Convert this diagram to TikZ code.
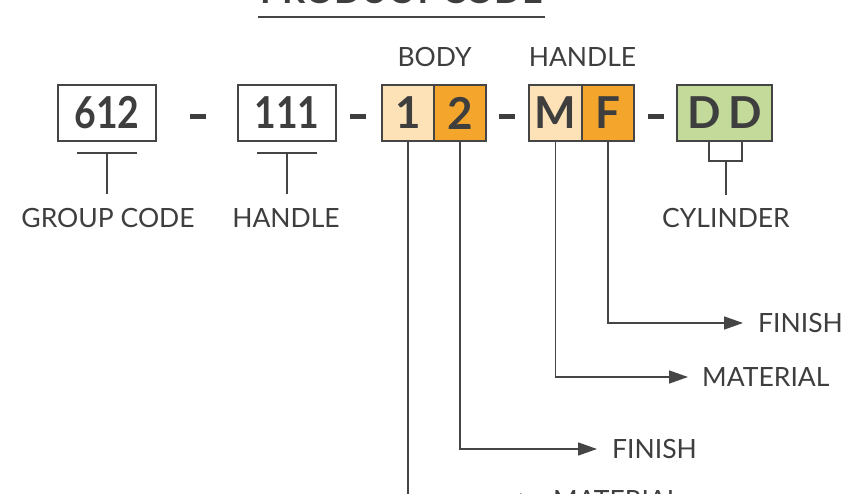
\documentclass[tikz,border=0pt]{standalone}
\usepackage{fontspec}
\setmainfont{Lato}
\usetikzlibrary{arrows.meta}
\definecolor{ink}{HTML}{3E3E3E}
\definecolor{lineink}{HTML}{454545}
\definecolor{lightorange}{HTML}{FCE2B6}
\definecolor{darkorange}{HTML}{F4A62C}
\definecolor{lightgreen}{HTML}{C4DA9A}
\tikzset{
  codebox/.style={draw=lineink, line width=1.3pt, minimum height=56pt, inner sep=0pt, text=ink,
                  font=\fontsize{44}{44}\bfseries\selectfont},
  lbl/.style={inner sep=0pt, text=ink, font=\fontsize{26.5}{26.5}\selectfont},
  conn/.style={draw=lineink, line width=1.5pt},
  arr/.style={conn, -{Triangle[length=19pt,width=13pt]}},
  dashmark/.style={fill=ink, minimum width=16pt, minimum height=5pt, inner sep=0pt},
}
\begin{document}
\begin{tikzpicture}[x=1pt,y=-1pt]
\useasboundingbox (0,0) rectangle (847,494);
\clip (0,0) rectangle (847,494);
\fill[white] (0,0) rectangle (847,494);

% title (cut off at the top)
\node[anchor=base, inner sep=0pt, text=ink, font=\fontsize{36}{36}\bfseries\selectfont] (title) at (401.5,4) {PRODUCT CODE};
\coordinate (ulA) at (258,17);
\coordinate (ulB) at (545,17);
\draw[conn, line width=2pt] (ulA) -- (ulB);

% boxes
\node[codebox, fill=white, minimum width=98pt] (b612) at (107,113) {\scalebox{0.85}[1]{612}};
\node[codebox, fill=white, minimum width=98pt] (b111) at (287,113) {\scalebox{0.85}[1]{111}};
\node[codebox, fill=lightorange, minimum width=52pt] (c1) at (408,113) {1};
\node[codebox, fill=darkorange, minimum width=52pt] (c2) at (460,113) {2};
\node[codebox, fill=lightorange, minimum width=53pt] (cM) at (555.5,113) {M};
\node[codebox, fill=darkorange, minimum width=52pt] (cF) at (608,113) {F};
\node[codebox, fill=lightgreen, minimum width=95pt] (cD) at (724.5,113) {D\,D};
\draw[lineink, line width=1.3pt] (c1.north east) -- (c1.south east);
\draw[lineink, line width=1.3pt] (cM.north east) -- (cM.south east);

% dashes
\node[dashmark] (d1) at (198,117) {};
\node[dashmark] (d2) at (358,117) {};
\node[dashmark] (d3) at (507,117) {};
\node[dashmark] (d4) at (656,117) {};

% labels above
\node[lbl] (body) at (434.5,57) {BODY};
\node[lbl] (handleTop) at (582.5,57) {HANDLE};

% labels below
\node[lbl] (group) at (108,218) {GROUP CODE};
\node[lbl] (handle) at (286,218) {HANDLE};
\node[lbl] (cyl) at (726,218) {CYLINDER};

% bars and stems
\coordinate (g1) at (77,153);
\coordinate (g2) at (137,153);
\coordinate (gm) at (107,153);
\draw[conn] (g1) -- (g2);
\draw[conn] (gm) -- ([yshift=14pt]gm |- group.north);
\coordinate (h1) at (257,153);
\coordinate (h2) at (317,153);
\coordinate (hm) at (287,153);
\draw[conn] (h1) -- (h2);
\draw[conn] (hm) -- ([yshift=14pt]hm |- handle.north);
\coordinate (k1) at (709,141);
\coordinate (k2) at (742,141);
\coordinate (k1b) at (709,161);
\coordinate (k2b) at (742,161);
\coordinate (km) at (726,161);
\draw[conn] (k1) -- (k1b) -- (k2b) -- (k2);
\draw[conn] (km) -- ([yshift=13pt]km |- cyl.north);

% right-hand labels
\node[lbl, anchor=west] (finF) at (758,323) {FINISH};
\node[lbl, anchor=west] (matM) at (702,377) {MATERIAL};
\node[lbl, anchor=west] (fin2) at (612,449) {FINISH};
\node[lbl, anchor=west] (mat1) at (553,500) {MATERIAL};

\draw[arr] (cF.south) |- ([xshift=-15pt]finF.west);
\draw[arr] (cM.south) |- ([xshift=-14pt]matM.west);
\draw[arr] (c2.south) |- ([xshift=-15pt]fin2.west);
\draw[arr] (c1.south) |- ([xshift=-14pt]mat1.west);
\end{tikzpicture}
\end{document}
